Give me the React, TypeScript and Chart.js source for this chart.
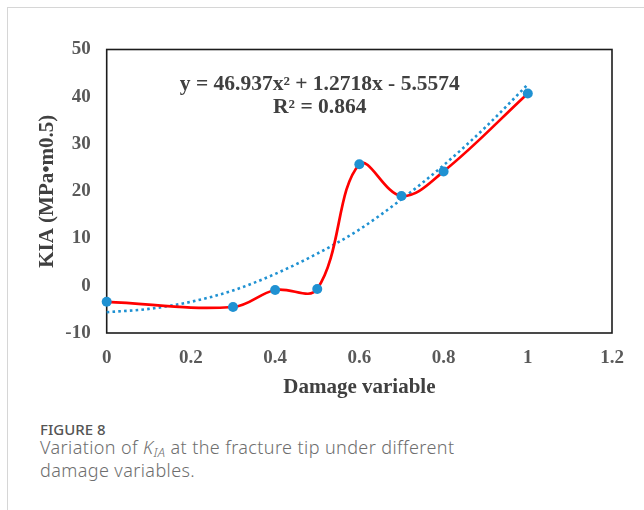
import React, { useEffect, useRef } from "react";
import { Chart, registerables } from "chart.js";

Chart.register(...registerables);

// ---- data ----
const damage = [0, 0.3, 0.4, 0.5, 0.6, 0.7, 0.8, 1.0];
const kia = [-3.4, -4.5, -0.9, -0.7, 25.7, 19.0, 24.2, 40.7];
const trendX = [0, 0.1, 0.2, 0.3, 0.4, 0.5, 0.6, 0.7, 0.8, 0.9, 1.0];
const trendY = [-5.6, -4.9, -3.4, -1.0, 2.5, 6.8, 11.9, 18.3, 25.5, 33.6, 42.6];
const xTickLabels = ["0", "0.2", "0.4", "0.6", "0.8", "1", "1.2"];
const yTickLabels = ["-10", "0", "10", "20", "30", "40", "50"];
const equationLines = ["y = 46.937x² + 1.2718x - 5.5574", "R² = 0.864"];

const SERIF = "'Liberation Serif', 'Times New Roman', serif";
const BLUE = "#1f91d2";
const RED = "#ff0000";

const boxPlugin = {
  id: "plotBox",
  beforeDatasetsDraw(chart: any) {
    const { ctx, chartArea } = chart;
    ctx.save();
    ctx.strokeStyle = "#1c1c1c";
    ctx.lineWidth = 1.6;
    ctx.strokeRect(chartArea.left, chartArea.top, chartArea.right - chartArea.left, chartArea.bottom - chartArea.top);
    ctx.restore();
  },
};

const equationPlugin = {
  id: "equation",
  afterDatasetsDraw(chart: any) {
    const { ctx, scales } = chart;
    const cx = scales.x.getPixelForValue(0.506);
    const stretch = 1.075;
    ctx.save();
    ctx.fillStyle = "#404040";
    ctx.font = `bold 20px ${SERIF}`;
    ctx.textAlign = "center";
    ctx.textBaseline = "alphabetic";
    ctx.translate(cx, 0);
    ctx.scale(stretch, 1);
    ctx.fillText(equationLines[0], 0, scales.y.getPixelForValue(41.4));
    ctx.fillText(equationLines[1], 0, scales.y.getPixelForValue(36.6));
    ctx.restore();
  },
};

function KiaChart() {
  const ref = useRef<HTMLCanvasElement | null>(null);
  useEffect(() => {
    if (!ref.current) return;
    const chart = new Chart(ref.current, {
      type: "line",
      data: {
        datasets: [
          {
            label: "KIA",
            data: damage.map((d, i) => ({ x: d, y: kia[i] })),
            borderColor: RED,
            borderWidth: 2.7,
            tension: 0.38,
            pointRadius: 5,
            pointBackgroundColor: BLUE,
            pointBorderWidth: 0,
            clip: false,
          },
          {
            label: "Trend",
            data: trendX.map((d, i) => ({ x: d, y: trendY[i] })),
            borderColor: BLUE,
            borderWidth: 2.6,
            borderDash: [2.6, 3.2],
            cubicInterpolationMode: "monotone",
            pointRadius: 0,
            clip: false,
          },
        ],
      },
      plugins: [boxPlugin, equationPlugin],
      options: {
        animation: false,
        responsive: false,
        events: [],
        layout: { padding: { top: 49.5, right: 32, bottom: 0, left: 0 } },
        plugins: { legend: { display: false }, tooltip: { enabled: false } },
        scales: {
          x: {
            type: "linear",
            min: 0,
            max: 1.2,
            grid: { display: false, drawTicks: false },
            border: { display: false },
            ticks: {
              stepSize: 0.2,
              padding: 14,
              color: "#595959",
              font: { family: SERIF, size: 19, weight: "bold" },
              callback: (_v: any, i: number) => xTickLabels[i],
            },
            title: {
              display: true,
              text: "Damage variable",
              color: "#404040",
              font: { family: SERIF, size: 21, weight: "bold" },
              padding: { top: 0, bottom: 0 },
            },
            afterFit: (s: any) => {
              s.height = 67;
            },
          },
          y: {
            type: "linear",
            min: -10,
            max: 50,
            grid: { display: false, drawTicks: false },
            border: { display: false },
            ticks: {
              stepSize: 10,
              padding: 16,
              color: "#595959",
              font: { family: SERIF, size: 19, weight: "bold" },
              callback: (_v: any, i: number) => yTickLabels[i],
            },
            title: {
              display: true,
              text: "KIA (MPa•m0.5)",
              color: "#404040",
              font: { family: SERIF, size: 21, weight: "bold" },
              padding: { top: 35, bottom: 0 },
            },
            afterFit: (s: any) => {
              s.width = 106.7;
            },
          },
        },
      },
    } as any);
    return () => chart.destroy();
  }, []);
  return <canvas ref={ref} width={644} height={400} style={{ position: "absolute", left: 0, top: 0, width: 644, height: 400 }} />;
}

export default function App() {
  useEffect(() => {
    document.body.style.margin = "0";
  }, []);
  const cap = "'Noto Sans', 'Open Sans', sans-serif";
  return (
    <div style={{ position: "relative", width: 644, height: 510, overflow: "hidden", background: "#fff" }}>
      <div
        style={{
          position: "absolute",
          left: 7,
          top: 7,
          width: 760,
          height: 640,
          border: "1px solid #d6d6d6",
          boxSizing: "border-box",
        }}
      />
      <KiaChart />
      <div
        style={{
          position: "absolute",
          left: 40,
          top: 420,
          fontFamily: cap,
          fontSize: 15,
          lineHeight: "18px",
          color: "#555",
          fontWeight: 500,
          whiteSpace: "nowrap",
        }}
      >
        FIGURE 8
      </div>
      <div
        style={{
          position: "absolute",
          left: 40,
          top: 436,
          width: 480,
          fontFamily: cap,
          fontSize: 18,
          lineHeight: "23px",
          letterSpacing: "0.4px",
          color: "#6e6e6e",
          fontWeight: 300,
          whiteSpace: "nowrap",
        }}
      >
        Variation of <i>K</i>
        <sub style={{ fontSize: 13, lineHeight: 0, verticalAlign: "-3px" }}>
          <i>IA</i>
        </sub>{" "}
        at the fracture tip under different
        <br />
        damage variables.
      </div>
    </div>
  );
}
